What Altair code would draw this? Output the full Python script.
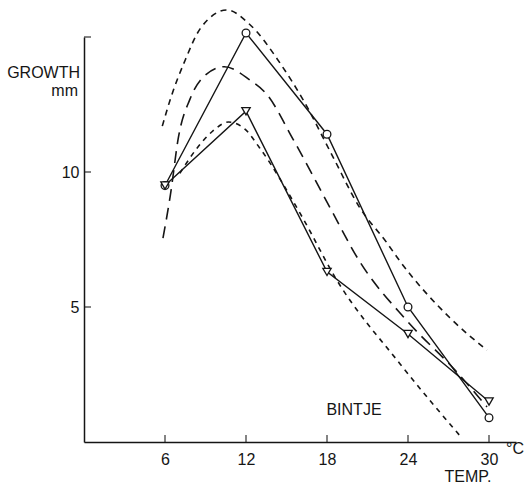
import altair as alt
import pandas as pd

# Measured growth (mm) at each temperature (deg C), variety Bintje
temps = [6, 12, 18, 24, 30]
growth_circles = [9.5, 15.15, 11.4, 5.0, 0.9]
growth_triangles = [9.5, 12.25, 6.3, 4.0, 1.5]

# Fitted response curves (dashed)
upper_x = [5.8, 6.4, 7.5, 8.6, 10.6, 12.2, 14.7, 16.2, 18.4, 20.4, 22.4, 23.4, 27.1, 29.85]
upper_y = [11.7, 12.7, 14.15, 15.3, 16.0, 15.5, 13.9, 12.7, 10.6, 8.7, 7.4, 6.7, 4.6, 3.4]

middle_x = [5.85, 6.4, 7.0, 7.85, 8.8, 10.4, 12.3, 13.5, 15.5, 18.2, 20.4, 23.9, 27.6, 29.85]
middle_y = [7.55, 9.15, 11.3, 12.7, 13.5, 13.9, 13.4, 12.9, 11.2, 8.7, 6.7, 4.5, 2.6, 1.3]

lower_x = [7.1, 8.4, 9.5, 10.7, 11.9, 13.0, 16.2, 18.6, 23.4, 27.9]
lower_y = [9.95, 10.9, 11.5, 11.85, 11.6, 10.9, 8.3, 6.1, 2.9, 0.2]

x_ticks = [6, 12, 18, 24, 30]
y_ticks = [5, 10, 15]
y_labels = [5, 10]

INK = "#151515"
FONT = "Liberation Sans"

xs = alt.Scale(domain=[0, 32], nice=False, zero=False)
ys = alt.Scale(domain=[0, 15], nice=False, zero=False)

circles = pd.DataFrame({"t": temps, "g": growth_circles})
triangles = pd.DataFrame({"t": temps, "g": growth_triangles})


def curve(xv, yv, dash, width):
    df = pd.DataFrame({"t": xv, "g": yv, "i": range(len(xv))})
    return alt.Chart(df).mark_line(
        color=INK, strokeWidth=width, strokeDash=dash, interpolate="monotone"
    ).encode(
        x=alt.X("t:Q", scale=xs,
                axis=alt.Axis(values=x_ticks, ticks=False, grid=False, title=None,
                              labelPadding=9, domainColor=INK, domainWidth=1.5,
                              labelFont=FONT, labelFontSize=16, labelColor=INK)),
        y=alt.Y("g:Q", scale=ys,
                axis=alt.Axis(values=y_labels, ticks=False, grid=False, title=None,
                              labelPadding=5, domainColor=INK, domainWidth=1.5,
                              labelFont=FONT, labelFontSize=16, labelColor=INK)),
        order="i:Q",
    )


upper = curve(upper_x, upper_y, [6, 5], 1.6)
middle = curve(middle_x, middle_y, [12, 7], 1.6)
lower = curve(lower_x, lower_y, [5, 5], 1.6)

circ_line = alt.Chart(circles).mark_line(color=INK, strokeWidth=1.4).encode(
    x=alt.X("t:Q", scale=xs), y=alt.Y("g:Q", scale=ys))
circ_pts = alt.Chart(circles).mark_point(
    shape="circle", filled=True, fill="white", stroke=INK, strokeWidth=1.3, size=60, opacity=1
).encode(x=alt.X("t:Q", scale=xs), y=alt.Y("g:Q", scale=ys))

tri_line = alt.Chart(triangles).mark_line(color=INK, strokeWidth=1.4).encode(
    x=alt.X("t:Q", scale=xs), y=alt.Y("g:Q", scale=ys))
tri_pts = alt.Chart(triangles).mark_point(
    shape="triangle-down", filled=True, fill="white", stroke=INK, strokeWidth=1.3, size=70, opacity=1
).encode(x=alt.X("t:Q", scale=xs), y=alt.Y("g:Q", scale=ys))

# Inward tick marks on both axes
xt = alt.Chart(pd.DataFrame({"t": x_ticks})).mark_tick(
    orient="vertical", color=INK, size=7, thickness=1.5, yOffset=-3.5
).encode(x=alt.X("t:Q", scale=xs), y=alt.datum(0, scale=ys))
yt = alt.Chart(pd.DataFrame({"g": y_ticks})).mark_tick(
    orient="horizontal", color=INK, size=7, thickness=1.5, xOffset=3.5
).encode(y=alt.Y("g:Q", scale=ys), x=alt.datum(0, scale=xs))


def label(text, x, y, align="left", baseline="alphabetic"):
    return alt.Chart(pd.DataFrame({"s": [text]})).mark_text(
        font=FONT, fontSize=16, color=INK, align=align, baseline=baseline
    ).encode(text="s:N", x=alt.value(x), y=alt.value(y))


texts = [
    label("GROWTH", -4, 41, align="right"),
    label("mm", -6, 59, align="right"),
    label("BINTJE", 270, 378, align="center"),
    label("TEMP.", 384, 445, align="center"),
    label("°C", 422, 417, align="left"),
]

chart = alt.layer(
    upper, middle, lower, circ_line, tri_line, circ_pts, tri_pts, xt, yt, *texts
).properties(
    width=432, height=405, autosize="none",
    padding={"left": 84, "top": 37, "right": 11, "bottom": 54},
    background="white",
).configure_view(stroke=None)

chart.save("out.html", embed_options={"renderer": "svg", "actions": False})
